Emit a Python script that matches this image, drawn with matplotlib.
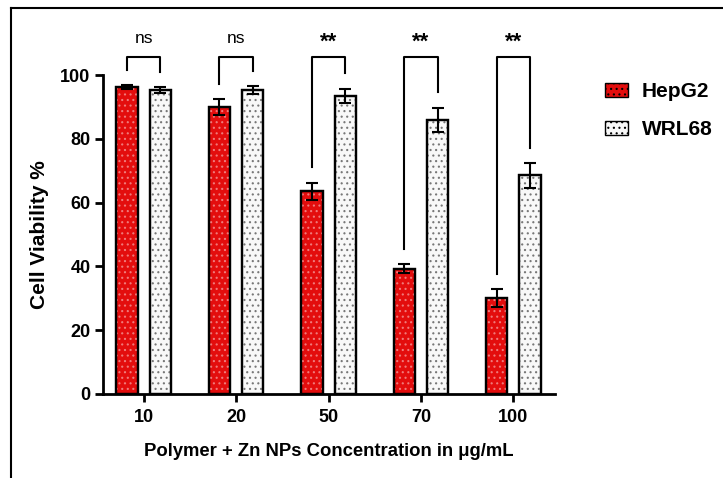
import numpy as np
import matplotlib.pyplot as plt
from matplotlib.lines import Line2D
from matplotlib.patches import Patch

concs = ['10', '20', '50', '70', '100']
hepg2 = [96.2, 90.0, 63.5, 39.3, 30.0]
hepg2_err = [0.7, 2.5, 2.8, 1.5, 2.8]
wrl68 = [95.2, 95.2, 93.5, 86.0, 68.5]
wrl68_err = [0.9, 1.2, 2.2, 3.8, 3.8]
signif = ['ns', 'ns', '**', '**', '**']

plt.rcParams['font.family'] = ['Liberation Sans', 'DejaVu Sans']
plt.rcParams['font.weight'] = 'bold'
plt.rcParams['hatch.linewidth'] = 0.8

fig = plt.figure(figsize=(7.23, 4.78), dpi=100)
ax = fig.add_axes([103 / 723, 84 / 478, 452 / 723, 319 / 478])

x = np.arange(len(concs))
w = 0.23
off = 0.18
red = '#e30d0d'

# HepG2: red with light dots
ax.bar(x - off, hepg2, w, color=red, edgecolor='black', linewidth=1.6, zorder=2)
ax.bar(x - off, hepg2, w, fill=False, hatch='...', edgecolor='#f07a7a', linewidth=0, zorder=3)
ax.bar(x - off, hepg2, w, fill=False, edgecolor='black', linewidth=1.6, zorder=4)
# WRL68: white with dark dots
ax.bar(x + off, wrl68, w, color='#f8f8f8', edgecolor='black', linewidth=1.6, zorder=2)
ax.bar(x + off, wrl68, w, fill=False, hatch='...', edgecolor='#777777', linewidth=0, zorder=3)
ax.bar(x + off, wrl68, w, fill=False, edgecolor='black', linewidth=1.6, zorder=4)

ax.errorbar(x - off, hepg2, yerr=hepg2_err, fmt='none', ecolor='black',
            elinewidth=1.5, capsize=4, capthick=1.5, zorder=5)
ax.errorbar(x + off, wrl68, yerr=wrl68_err, fmt='none', ecolor='black',
            elinewidth=1.5, capsize=4, capthick=1.5, zorder=5)

# significance brackets
top = 105.6
for i in range(len(concs)):
    l_end = hepg2[i] + hepg2_err[i] + 4.8
    r_end = wrl68[i] + wrl68_err[i] + 4.8
    ax.plot([x[i] - off, x[i] - off, x[i] + off, x[i] + off],
            [l_end, top, top, r_end], color='black', lw=1.5, clip_on=False)
    if signif[i] == 'ns':
        ax.text(x[i], top + 3.5, 'ns', ha='center', va='bottom', fontsize=12.5,
                fontweight='normal', clip_on=False)
    else:
        ax.text(x[i], top + 1.5, signif[i], ha='center', va='bottom', fontsize=16,
                fontweight='bold', clip_on=False)

ax.set_xlim(-0.44, 4.45)
ax.set_ylim(0, 100)
ax.set_yticks([0, 20, 40, 60, 80, 100])
ax.set_xticks(x)
ax.set_xticklabels(concs)
ax.tick_params(axis='both', width=2, length=6, labelsize=13)
ax.tick_params(axis='x', pad=5)
ax.tick_params(axis='y', pad=3)
for s in ['top', 'right']:
    ax.spines[s].set_visible(False)
for s in ['left', 'bottom']:
    ax.spines[s].set_linewidth(2)

ax.set_ylabel('Cell Viability %', fontsize=15, fontweight='bold', labelpad=8)
ax.set_xlabel('Polymer + Zn NPs Concentration in \u03bcg/mL', fontsize=13.3,
              fontweight='bold', labelpad=12)

handles = [Patch(facecolor=red, edgecolor='black', hatch='...', label='HepG2'),
           Patch(facecolor='#f8f8f8', edgecolor='black', hatch='...', label='WRL68')]
fig.legend(handles=handles, loc='upper left', bbox_to_anchor=(601 / 723, 1 - 78 / 478),
           frameon=False, prop={'size': 15, 'weight': 'bold'}, handlelength=1.1,
           handleheight=0.63, labelspacing=0.92, handletextpad=0.67, borderpad=0.2,
           borderaxespad=0)

# outer frame of the figure
fig.add_artist(Line2D([11 / 723, 11 / 723], [0, 1 - 8 / 478], color='black', lw=1.5))
fig.add_artist(Line2D([11 / 723, 1], [1 - 8 / 478, 1 - 8 / 478], color='black', lw=1.5))

fig.savefig('out.png', dpi=100)
